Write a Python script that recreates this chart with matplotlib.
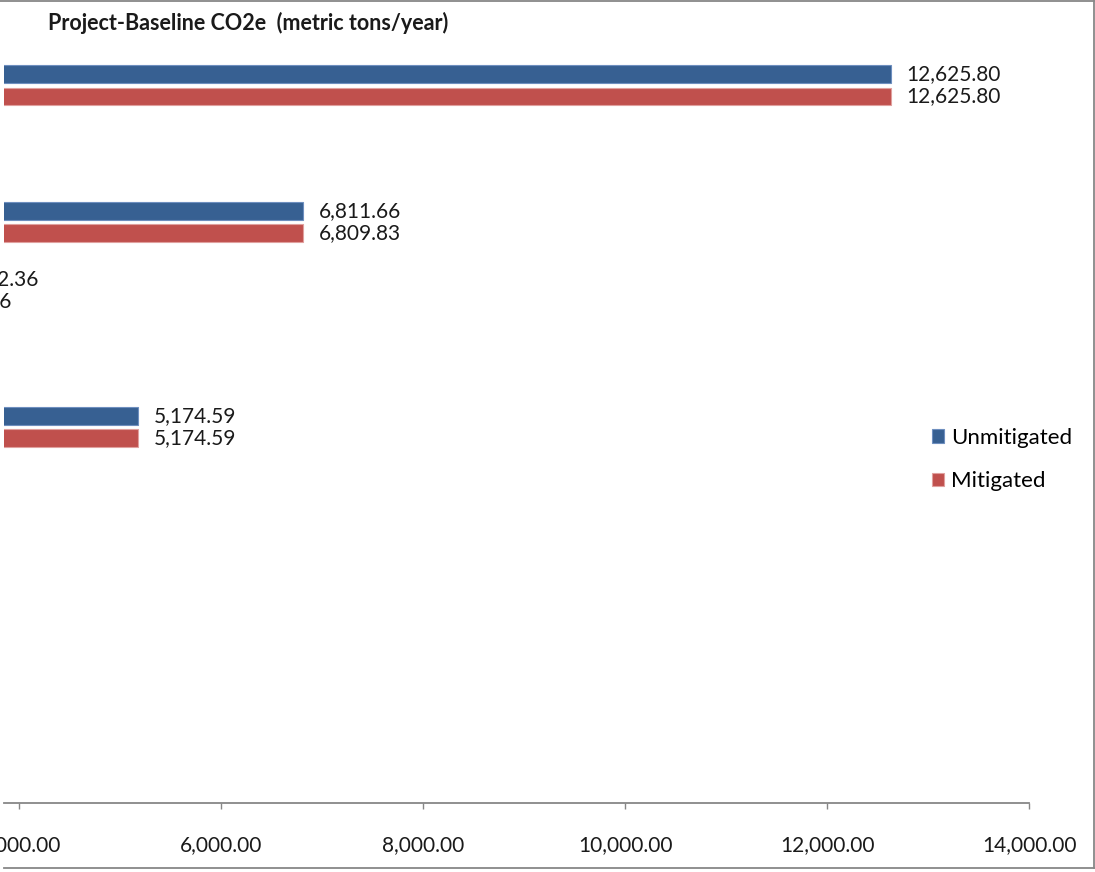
import matplotlib
matplotlib.use('Agg')
import matplotlib.pyplot as plt
from matplotlib.lines import Line2D
from matplotlib.ticker import FuncFormatter, MultipleLocator
import numpy as np

plt.rcParams['font.family'] = ['Lato', 'DejaVu Sans']

# emission sources, top to bottom (only the first rows carry large values)
unmitigated = [12625.80, 0.00, 6811.66, 3222.36, 0.00, 5174.59, 0.00, 0.00, 0.00, 0.00, 0.00]
mitigated = [12625.80, 0.00, 6809.83, 2955.26, 0.00, 5174.59, 0.00, 0.00, 0.00, 0.00, 0.00]
series_names = ['Unmitigated', 'Mitigated']
title = 'Project-Baseline CO2e  (metric tons/year)'

W, H = 1095, 872
blue, red = '#376092', '#C0504D'
grey = '#878787'
fs = 15

fig = plt.figure(figsize=(W / 100, H / 100), dpi=100)

# plot area in pixels (left, right, top, bottom)
pl, pr, pt, pb = 4, 1029.3, 51.1, 802.7
ax = fig.add_axes([pl / W, 1 - pb / H, (pr - pl) / W, (pb - pt) / H])

n = len(unmitigated)
pos = np.arange(n)
off = 0.165
hgt = 0.262
b1 = ax.barh(pos - off, unmitigated, height=hgt, color=blue, edgecolor='#6e8fbf', linewidth=0.8, label=series_names[0])
b2 = ax.barh(pos + off, mitigated, height=hgt, color=red, edgecolor='#e0a09e', linewidth=0.8, label=series_names[1])

# value labels next to the bar ends (empty rows get none)
for vals, y in ((unmitigated, pos - off), (mitigated, pos + off)):
    for v, yy in zip(vals, y):
        if v <= 0:
            continue
        ax.annotate(f'{v:,.2f}', xy=(v, yy), xytext=(11, 0), textcoords='offset points',
                    ha='left', va='center', fontsize=fs, color='#1a1a1a', annotation_clip=False)

ax.set_ylim(n - 0.5, -0.5)
ax.set_xlim(4000 - 15.5 / 0.10098, 14000)
ax.xaxis.set_major_locator(MultipleLocator(2000))
ax.xaxis.set_major_formatter(FuncFormatter(lambda v, p: f'{v:,.2f}'))
ax.set_yticks([])
for s in ['top', 'right', 'left']:
    ax.spines[s].set_visible(False)
ax.spines['bottom'].set_color(grey)
ax.spines['bottom'].set_linewidth(1.3)
ax.tick_params(axis='x', direction='out', length=4.5, width=1.0, color=grey,
               labelsize=fs, labelcolor='#1a1a1a', pad=19)

fig.text(48 / W, 1 - 30 / H, title, fontsize=15.5, fontweight='bold', ha='left', va='baseline', color='#1a1a1a')

fig.legend(handles=[b1, b2], labels=series_names, loc='center left', frameon=False,
           bbox_to_anchor=(932 / W, 1 - 459.5 / H), fontsize=16, borderpad=0, borderaxespad=0,
           handlelength=0.55, handleheight=0.55, handletextpad=0.3, labelspacing=1.05)

# chart area border
for xs, ys in (([0, 1094], [1, 1]), ([1094, 1094], [1, 868]), ([4, 1094], [868, 868])):
    fig.add_artist(Line2D([x / W for x in xs], [1 - y / H for y in ys], color=grey, lw=1.3))

fig.savefig('out.png', dpi=100)
